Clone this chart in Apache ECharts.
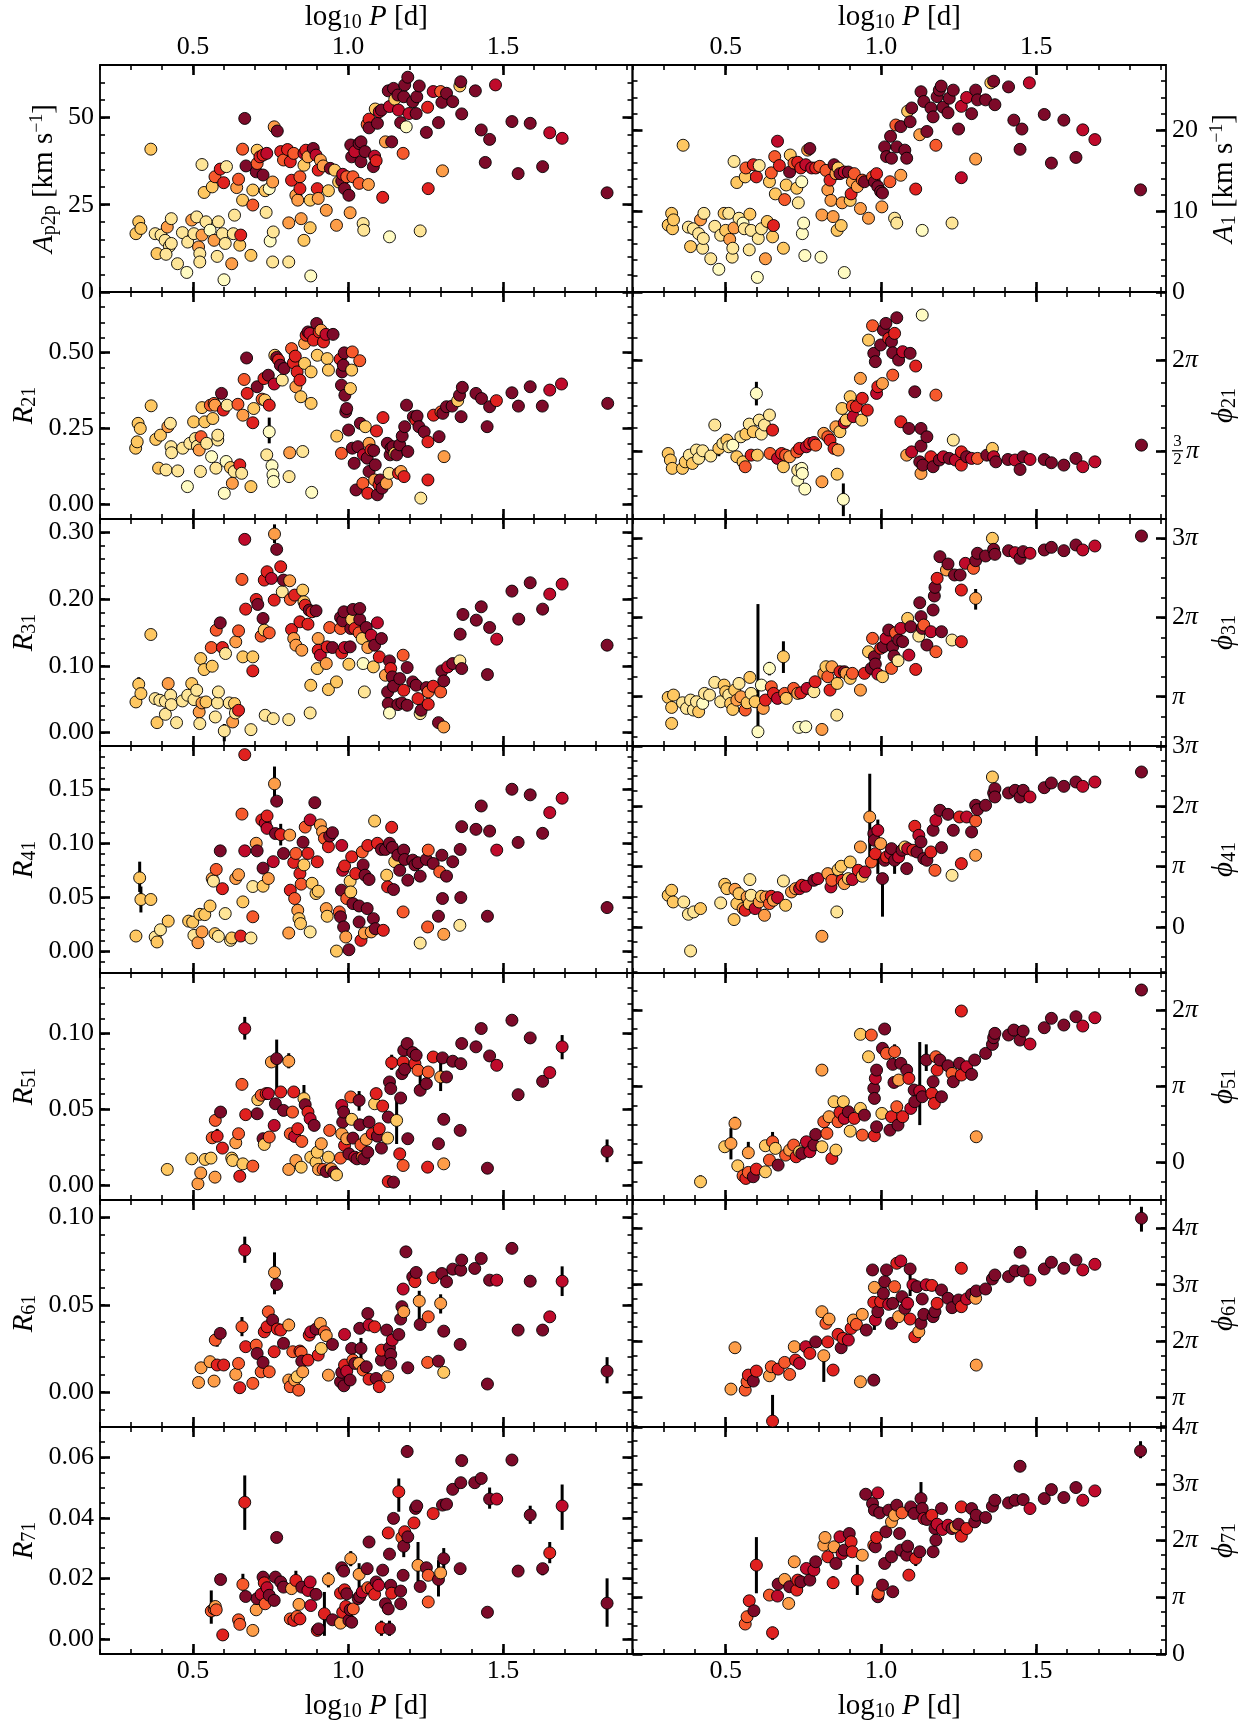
<!DOCTYPE html>
<html><head><meta charset="utf-8">
<script src="https://cdn.jsdelivr.net/npm/echarts@6/dist/echarts.min.js"></script>
<style>html,body{margin:0;padding:0;background:#fff}#c{width:1254px;height:1726px}</style>
</head><body><div id="c"></div>
<script>
// ---------------- DATA: [log10 P, value, colour class 0..7] ----------------
// phase panels (phi_k1) are stored in units of pi
const xTicks = [0.5, 1.0, 1.5];
const ap2pTicks = [0, 25, 50];
const a1Ticks = [0, 10, 20];
const r21Ticks = [0, 0.25, 0.5];
const r31Ticks = [0, 0.1, 0.2, 0.3];
const r41Ticks = [0, 0.05, 0.1, 0.15];
const r51Ticks = [0, 0.05, 0.1];
const r61Ticks = [0, 0.05, 0.1];
const r71Ticks = [0, 0.02, 0.04, 0.06];
const p21Ticks = [1.5, 2];
const p31Ticks = [1, 2, 3];
const p41Ticks = [0, 1, 2, 3];
const p51Ticks = [0, 1, 2];
const p61Ticks = [1, 2, 3, 4];
const p71Ticks = [0, 1, 2, 3, 4];

const ap2pPts = [[0.316,16.7,2],[0.325,20.1,2],[0.332,18.2,2],[0.364,40.9,2],[0.378,16.7,1],[0.384,11.0,2],[0.397,16.3,1],[0.410,14.8,1],[0.417,18.6,3],[0.424,13.1,1],[0.430,21.0,1],[0.430,13.9,1],[0.413,10.8,1],[0.450,8.1,1],[0.466,17.0,1],[0.480,5.6,0],[0.483,14.3,1],[0.496,20.6,3],[0.503,16.7,1],[0.512,21.5,1],[0.518,12.9,3],[0.522,11.0,1],[0.522,8.6,1],[0.529,16.3,3],[0.529,36.5,1],[0.536,28.5,2],[0.542,20.1,1],[0.555,17.7,0],[0.562,30.1,2],[0.568,14.8,3],[0.571,33.0,4],[0.578,10.2,1],[0.582,20.1,1],[0.588,35.2,5],[0.595,16.7,1],[0.599,31.3,5],[0.604,13.9,1],[0.600,3.5,0],[0.608,35.9,1],[0.625,8.1,3],[0.630,16.7,1],[0.634,22.0,1],[0.641,29.9,3],[0.647,32.3,4],[0.651,13.4,2],[0.654,16.3,5],[0.660,26.3,2],[0.660,40.9,4],[0.667,49.7,7],[0.671,36.1,7],[0.687,10.5,2],[0.693,24.9,4],[0.693,29.2,2],[0.704,34.4,7],[0.707,40.6,2],[0.707,36.8,4],[0.716,38.7,5],[0.726,39.2,5],[0.726,33.5,7],[0.733,29.0,2],[0.736,22.8,1],[0.738,39.7,6],[0.746,29.6,0],[0.749,14.6,0],[0.757,8.6,1],[0.759,17.2,1],[0.762,47.3,3],[0.772,46.1,7],[0.757,31.5,3],[0.783,40.2,5],[0.792,37.8,4],[0.805,40.8,5],[0.809,8.6,1],[0.809,19.8,3],[0.814,37.3,5],[0.818,32.0,5],[0.825,39.7,4],[0.832,27.7,3],[0.838,26.3,3],[0.845,33.0,4],[0.845,29.6,5],[0.849,21.0,3],[0.858,14.8,2],[0.858,36.3,2],[0.858,39.7,6],[0.864,40.6,5],[0.871,38.7,3],[0.878,26.3,2],[0.878,18.4,2],[0.880,4.6,0],[0.888,41.1,7],[0.897,39.2,6],[0.901,29.6,5],[0.904,34.9,5],[0.904,26.8,3],[0.911,37.8,3],[0.920,36.1,3],[0.930,23.4,3],[0.937,29.0,2],[0.943,35.4,7],[0.957,34.9,2],[0.963,19.1,3],[0.970,31.5,2],[0.980,31.8,7],[0.983,33.7,6],[0.989,29.6,7],[0.996,33.0,4],[1.003,27.7,7],[1.007,22.7,3],[1.009,42.1,7],[1.012,38.7,7],[1.016,33.0,4],[1.022,40.2,6],[1.036,42.5,7],[1.036,31.1,4],[1.042,37.3,7],[1.042,43.0,7],[1.049,19.6,1],[1.051,17.7,1],[1.055,40.2,7],[1.062,48.0,4],[1.066,30.8,3],[1.068,49.5,5],[1.068,47.0,7],[1.082,35.9,7],[1.086,38.9,6],[1.091,37.6,5],[1.095,48.3,7],[1.088,52.4,2],[1.101,51.6,6],[1.108,52.1,7],[1.112,27.1,5],[1.121,43.0,3],[1.130,57.6,7],[1.134,53.1,6],[1.134,15.8,0],[1.141,43.0,7],[1.147,58.3,7],[1.151,55.2,2],[1.161,56.4,7],[1.163,52.1,6],[1.170,48.5,7],[1.178,39.7,4],[1.180,55.9,7],[1.183,59.3,7],[1.188,47.3,0],[1.193,61.5,7],[1.197,51.1,6],[1.209,54.5,7],[1.220,51.1,7],[1.222,55.9,7],[1.230,59.0,7],[1.233,17.5,1],[1.253,45.7,7],[1.257,52.9,5],[1.259,29.6,5],[1.275,57.4,6],[1.292,48.5,7],[1.299,57.4,4],[1.303,54.3,7],[1.305,34.7,3],[1.318,56.9,7],[1.338,54.5,7],[1.361,59.0,2],[1.364,60.2,7],[1.367,51.0,7],[1.411,57.6,7],[1.430,46.4,7],[1.443,37.1,7],[1.457,43.7,7],[1.476,59.3,6],[1.529,48.8,7],[1.549,33.9,7],[1.588,48.3,7],[1.628,35.9,7],[1.651,45.6,6],[1.691,44.0,6],[1.836,28.4,7]];

const a1Pts = [[0.315,8.25,2],[0.326,9.7,2],[0.329,7.8,2],[0.332,8.9,2],[0.363,18.1,2],[0.380,8.0,1],[0.387,5.6,2],[0.396,7.8,1],[0.413,7.2,1],[0.419,8.9,3],[0.426,5.4,1],[0.428,6.6,1],[0.430,9.7,1],[0.452,4.1,1],[0.465,8.1,1],[0.478,2.8,0],[0.484,7.0,1],[0.495,9.7,2],[0.500,7.6,2],[0.510,9.7,1],[0.513,6.5,3],[0.521,4.3,1],[0.523,5.4,1],[0.527,7.9,3],[0.527,16.1,1],[0.536,13.5,2],[0.543,9.1,1],[0.556,8.5,0],[0.560,7.8,1],[0.563,14.2,2],[0.565,15.3,4],[0.576,5.2,1],[0.578,9.6,2],[0.582,7.6,1],[0.589,15.7,5],[0.599,14.2,5],[0.602,1.8,0],[0.605,6.6,1],[0.608,15.6,1],[0.615,7.8,1],[0.628,4.1,3],[0.634,8.7,2],[0.641,13.6,2],[0.647,14.7,4],[0.651,6.8,2],[0.654,8.2,5],[0.658,16.7,4],[0.660,12.1,2],[0.667,18.6,6],[0.673,15.6,5],[0.686,5.4,2],[0.690,11.4,4],[0.695,13.2,2],[0.706,14.8,7],[0.708,16.9,2],[0.720,15.9,4],[0.729,12.8,2],[0.732,16.0,5],[0.734,11.0,1],[0.742,15.3,5],[0.745,13.6,0],[0.747,7.2,0],[0.751,8.5,0],[0.755,4.5,0],[0.758,15.7,6],[0.764,17.5,3],[0.771,17.7,7],[0.777,15.3,6],[0.790,15.3,5],[0.803,15.5,4],[0.807,4.3,0],[0.810,9.5,3],[0.823,15.0,4],[0.829,12.6,3],[0.836,13.8,5],[0.839,11.3,3],[0.846,9.3,3],[0.849,15.7,7],[0.855,14.6,3],[0.859,7.6,2],[0.862,15.3,2],[0.868,14.6,7],[0.872,8.2,2],[0.875,11.0,3],[0.882,2.4,0],[0.882,14.8,6],[0.895,14.8,7],[0.901,11.3,2],[0.904,12.1,5],[0.908,13.6,3],[0.914,14.6,4],[0.924,13.0,3],[0.934,10.3,3],[0.940,13.8,4],[0.947,13.6,7],[0.960,9.1,3],[0.973,14.2,4],[0.979,13.6,7],[0.986,14.6,5],[0.990,13.0,7],[0.999,12.4,7],[1.003,10.5,3],[1.005,12.2,7],[1.012,17.9,7],[1.018,16.7,7],[1.029,13.6,4],[1.031,19.2,7],[1.034,16.5,7],[1.044,9.1,1],[1.048,20.6,4],[1.051,8.5,1],[1.051,17.9,7],[1.064,14.4,3],[1.064,20.4,7],[1.077,17.5,7],[1.083,16.5,7],[1.086,22.3,2],[1.094,21.0,7],[1.099,22.7,7],[1.112,12.7,5],[1.125,19.4,3],[1.133,7.6,0],[1.129,24.7,7],[1.138,23.5,7],[1.148,19.8,7],[1.161,22.7,7],[1.168,21.6,7],[1.177,18.1,4],[1.181,24.1,7],[1.188,24.9,7],[1.194,25.4,7],[1.200,22.8,7],[1.216,22.1,7],[1.220,23.9,7],[1.229,8.5,1],[1.233,24.9,7],[1.250,20.1,7],[1.259,22.9,6],[1.259,14.1,6],[1.276,24.0,6],[1.292,22.0,7],[1.305,16.4,3],[1.305,24.9,7],[1.311,23.7,7],[1.337,23.7,7],[1.354,25.8,2],[1.363,26.0,7],[1.367,23.1,7],[1.411,25.3,7],[1.428,21.2,7],[1.448,17.6,7],[1.454,20.1,7],[1.478,25.8,6],[1.526,21.9,7],[1.549,15.9,7],[1.589,21.2,7],[1.628,16.6,7],[1.650,20.0,6],[1.689,18.8,6],[1.836,12.6,7]];

const r21Pts = [[0.315,0.184,2],[0.320,0.205,2],[0.323,0.266,2],[0.330,0.249,2],[0.365,0.324,2],[0.380,0.213,2],[0.389,0.118,2],[0.395,0.227,2],[0.413,0.112,1],[0.419,0.255,3],[0.427,0.266,1],[0.429,0.189,1],[0.431,0.169,1],[0.451,0.109,1],[0.467,0.184,1],[0.482,0.057,0],[0.490,0.200,1],[0.502,0.271,2],[0.508,0.216,1],[0.514,0.191,1],[0.520,0.178,3],[0.524,0.107,1],[0.526,0.222,4],[0.529,0.318,2],[0.538,0.271,2],[0.544,0.200,1],[0.556,0.326,4],[0.560,0.156,0],[0.564,0.282,2],[0.568,0.332,4],[0.571,0.326,3],[0.574,0.118,1],[0.580,0.211,1],[0.580,0.227,1],[0.592,0.365,7],[0.598,0.310,5],[0.601,0.035,0],[0.607,0.140,0],[0.610,0.326,1],[0.621,0.120,2],[0.627,0.068,3],[0.633,0.107,1],[0.645,0.329,4],[0.651,0.129,5],[0.657,0.101,1],[0.661,0.293,3],[0.665,0.411,4],[0.673,0.482,7],[0.675,0.365,5],[0.687,0.057,2],[0.693,0.268,5],[0.696,0.315,2],[0.707,0.387,7],[0.723,0.346,4],[0.729,0.414,5],[0.732,0.343,2],[0.738,0.162,1],[0.743,0.425,7],[0.746,0.238,0],[0.746,0.326,5],[0.755,0.126,0],[0.758,0.096,0],[0.760,0.074,0],[0.762,0.396,6],[0.764,0.491,2],[0.770,0.484,7],[0.776,0.475,5],[0.782,0.458,7],[0.788,0.409,1],[0.794,0.447,7],[0.810,0.090,1],[0.812,0.169,3],[0.818,0.513,4],[0.824,0.466,5],[0.830,0.488,5],[0.832,0.387,3],[0.836,0.436,5],[0.845,0.409,5],[0.848,0.354,2],[0.854,0.173,1],[0.860,0.530,3],[0.860,0.464,2],[0.865,0.557,5],[0.871,0.568,7],[0.877,0.563,6],[0.881,0.332,2],[0.881,0.436,2],[0.883,0.038,0],[0.889,0.541,5],[0.899,0.596,7],[0.901,0.491,2],[0.907,0.568,5],[0.913,0.574,3],[0.921,0.535,5],[0.929,0.560,6],[0.933,0.480,2],[0.937,0.442,2],[0.952,0.560,7],[0.964,0.224,2],[0.975,0.478,5],[0.979,0.167,4],[0.979,0.392,7],[0.981,0.436,7],[0.985,0.458,7],[0.988,0.499,7],[0.990,0.359,7],[0.993,0.304,7],[0.996,0.315,7],[1.002,0.244,7],[1.008,0.381,2],[1.012,0.442,2],[1.014,0.502,4],[1.014,0.184,7],[1.020,0.134,7],[1.026,0.046,7],[1.032,0.189,7],[1.038,0.473,4],[1.040,0.266,7],[1.048,0.068,4],[1.050,0.162,6],[1.056,0.255,2],[1.062,0.151,7],[1.064,0.035,5],[1.068,0.200,3],[1.068,0.107,7],[1.074,0.178,5],[1.083,0.176,7],[1.086,0.079,3],[1.088,0.129,7],[1.092,0.241,5],[1.095,0.030,7],[1.100,0.063,5],[1.104,0.079,7],[1.110,0.052,7],[1.113,0.285,5],[1.124,0.068,3],[1.127,0.200,7],[1.133,0.101,1],[1.136,0.162,7],[1.139,0.184,7],[1.145,0.189,7],[1.151,0.167,2],[1.157,0.162,7],[1.163,0.101,5],[1.167,0.195,7],[1.171,0.107,3],[1.175,0.224,7],[1.181,0.090,5],[1.183,0.255,7],[1.189,0.326,7],[1.193,0.173,7],[1.211,0.288,7],[1.219,0.277,5],[1.223,0.290,7],[1.229,0.255,7],[1.235,0.019,1],[1.246,0.238,7],[1.258,0.205,5],[1.258,0.079,5],[1.276,0.293,5],[1.294,0.222,7],[1.300,0.304,4],[1.306,0.299,7],[1.310,0.156,3],[1.318,0.321,7],[1.336,0.323,7],[1.354,0.341,2],[1.360,0.359,7],[1.365,0.288,7],[1.369,0.385,7],[1.413,0.365,7],[1.431,0.348,7],[1.449,0.255,7],[1.457,0.321,7],[1.479,0.341,5],[1.529,0.367,7],[1.550,0.323,7],[1.588,0.387,7],[1.627,0.323,7],[1.651,0.376,6],[1.689,0.396,6],[1.838,0.332,7]];

const p21Pts = [[0.315,1.485,2],[0.322,1.449,2],[0.328,1.403,2],[0.361,1.403,2],[0.370,1.439,2],[0.383,1.476,1],[0.393,1.430,2],[0.406,1.504,1],[0.413,1.458,1],[0.426,1.500,1],[0.452,1.471,1],[0.465,1.642,1],[0.478,1.513,2],[0.491,1.540,1],[0.504,1.559,2],[0.510,1.522,1],[0.523,1.531,0],[0.536,1.467,2],[0.549,1.577,1],[0.556,1.439,2],[0.563,1.412,4],[0.565,1.592,2],[0.576,1.647,1],[0.582,1.476,5],[0.589,1.605,2],[0.599,1.816,0],[0.602,1.476,2],[0.608,1.669,1],[0.615,1.592,1],[0.625,1.642,1],[0.641,1.697,1],[0.643,1.485,4],[0.651,1.614,5],[0.667,1.458,6],[0.680,1.485,5],[0.686,1.412,2],[0.693,1.476,4],[0.706,1.467,3],[0.729,1.494,4],[0.732,1.338,0],[0.732,1.393,1],[0.738,1.513,5],[0.745,1.403,0],[0.747,1.375,0],[0.755,1.289,0],[0.760,1.522,6],[0.771,1.540,5],[0.784,1.546,6],[0.790,1.531,4],[0.810,1.329,3],[0.816,1.596,3],[0.829,1.577,4],[0.836,1.559,5],[0.849,1.513,5],[0.855,1.632,3],[0.859,1.371,2],[0.862,1.504,3],[0.868,1.605,2],[0.875,1.733,2],[0.879,1.232,0],[0.882,1.654,6],[0.888,1.669,2],[0.901,1.798,2],[0.908,1.746,4],[0.911,1.688,6],[0.921,1.743,5],[0.934,1.899,3],[0.938,1.669,2],[0.940,1.789,5],[0.956,1.724,5],[0.960,2.110,2],[0.973,2.189,4],[0.977,2.037,7],[0.982,1.991,7],[0.986,1.816,6],[0.990,1.853,5],[0.999,2.083,7],[1.005,1.871,3],[1.008,2.165,7],[1.016,2.202,7],[1.025,2.119,5],[1.034,2.101,7],[1.038,2.040,7],[1.038,1.917,4],[1.044,2.147,5],[1.051,2.233,7],[1.057,2.000,7],[1.064,1.660,5],[1.070,2.046,6],[1.083,1.476,3],[1.090,1.623,7],[1.094,2.037,7],[1.099,1.494,6],[1.109,1.825,7],[1.112,1.967,5],[1.125,1.439,7],[1.129,1.375,3],[1.129,1.623,7],[1.133,2.248,0],[1.129,1.526,7],[1.135,1.421,7],[1.148,1.577,7],[1.161,1.467,5],[1.168,1.412,7],[1.177,1.807,4],[1.188,1.449,7],[1.201,1.467,6],[1.220,1.458,7],[1.233,1.559,1],[1.240,1.449,6],[1.259,1.494,5],[1.259,1.421,5],[1.276,1.467,7],[1.292,1.458,6],[1.311,1.458,4],[1.341,1.476,7],[1.359,1.513,2],[1.363,1.467,6],[1.370,1.439,7],[1.409,1.452,7],[1.432,1.449,6],[1.448,1.397,7],[1.458,1.467,7],[1.480,1.452,6],[1.526,1.452,7],[1.549,1.434,7],[1.589,1.421,7],[1.628,1.458,7],[1.650,1.412,6],[1.689,1.439,6],[1.839,1.531,7]];

const r31Pts = [[0.316,0.046,2],[0.325,0.0725,2],[0.332,0.0585,2],[0.364,0.147,2],[0.378,0.051,1],[0.384,0.015,2],[0.393,0.0485,1],[0.411,0.047,1],[0.411,0.0275,1],[0.420,0.0735,3],[0.428,0.056,1],[0.430,0.042,1],[0.447,0.015,1],[0.466,0.0475,1],[0.483,0.056,1],[0.496,0.0735,2],[0.503,0.0495,1],[0.512,0.0635,1],[0.520,0.031,3],[0.522,0.0135,1],[0.529,0.0445,3],[0.525,0.111,2],[0.536,0.0945,2],[0.542,0.046,2],[0.559,0.1275,4],[0.562,0.0995,2],[0.572,0.0235,1],[0.575,0.1535,4],[0.579,0.0445,1],[0.582,0.061,1],[0.588,0.1645,7],[0.595,0.1275,5],[0.601,0.0025,1],[0.605,0.1185,1],[0.617,0.0445,1],[0.628,0.016,3],[0.634,0.0435,2],[0.637,0.0295,1],[0.647,0.0335,5],[0.638,0.136,3],[0.647,0.1525,4],[0.658,0.2295,4],[0.661,0.1135,2],[0.667,0.2895,6],[0.670,0.185,5],[0.687,0.0045,1],[0.693,0.1135,2],[0.693,0.0925,5],[0.704,0.1995,5],[0.709,0.192,7],[0.720,0.1445,4],[0.726,0.171,7],[0.730,0.1535,2],[0.733,0.026,1],[0.730,0.2285,5],[0.739,0.241,5],[0.746,0.1495,4],[0.753,0.231,6],[0.759,0.021,1],[0.762,0.1985,5],[0.763,0.2975,3],[0.770,0.2745,7],[0.783,0.2485,5],[0.788,0.211,1],[0.792,0.2285,7],[0.809,0.0195,1],[0.812,0.2275,3],[0.814,0.1995,4],[0.818,0.1545,5],[0.825,0.141,3],[0.828,0.206,5],[0.832,0.131,3],[0.845,0.166,5],[0.851,0.1235,3],[0.854,0.2135,2],[0.858,0.196,2],[0.862,0.191,5],[0.871,0.1625,5],[0.875,0.1835,7],[0.878,0.0295,1],[0.880,0.071,2],[0.884,0.181,5],[0.897,0.1825,7],[0.901,0.096,2],[0.904,0.141,3],[0.904,0.1235,5],[0.911,0.116,6],[0.930,0.1035,3],[0.933,0.1285,5],[0.937,0.0645,2],[0.941,0.1575,4],[0.950,0.1275,7],[0.963,0.076,2],[0.976,0.156,4],[0.976,0.1725,7],[0.980,0.1195,5],[0.983,0.1675,7],[0.987,0.181,7],[0.989,0.1275,6],[1.003,0.1025,2],[1.007,0.1285,7],[1.009,0.156,7],[1.012,0.1695,2],[1.016,0.1845,7],[1.022,0.156,5],[1.036,0.1495,4],[1.038,0.1695,7],[1.038,0.186,7],[1.046,0.141,2],[1.049,0.1035,0],[1.053,0.061,1],[1.059,0.1575,7],[1.064,0.1275,3],[1.075,0.146,6],[1.082,0.0985,2],[1.086,0.131,7],[1.095,0.1645,6],[1.101,0.1135,5],[1.108,0.141,7],[1.121,0.086,3],[1.128,0.061,7],[1.130,0.0435,7],[1.134,0.0295,0],[1.134,0.1075,7],[1.138,0.096,5],[1.143,0.0835,7],[1.147,0.0695,7],[1.161,0.042,7],[1.167,0.081,7],[1.174,0.0445,7],[1.178,0.116,4],[1.180,0.0635,5],[1.191,0.0975,7],[1.191,0.041,7],[1.209,0.076,7],[1.220,0.071,7],[1.226,0.051,5],[1.233,0.0285,1],[1.236,0.0335,7],[1.253,0.0675,7],[1.259,0.0425,5],[1.259,0.061,4],[1.275,0.0695,5],[1.292,0.015,7],[1.299,0.061,4],[1.303,0.0925,7],[1.309,0.0775,7],[1.309,0.0085,3],[1.322,0.0985,6],[1.338,0.1035,7],[1.361,0.1075,1],[1.362,0.1475,7],[1.367,0.096,7],[1.371,0.177,7],[1.414,0.1685,7],[1.430,0.1885,7],[1.450,0.087,7],[1.457,0.1575,7],[1.480,0.140,6],[1.529,0.212,7],[1.551,0.170,7],[1.588,0.2245,7],[1.628,0.185,7],[1.651,0.2075,6],[1.691,0.2225,6],[1.836,0.131,7]];

const p31Pts = [[0.315,0.992,2],[0.326,0.865,2],[0.326,0.663,2],[0.332,1.021,2],[0.361,0.924,1],[0.374,0.853,1],[0.387,0.958,1],[0.396,0.832,1],[0.406,0.937,1],[0.413,0.811,2],[0.426,0.916,0],[0.432,1.042,1],[0.448,1.021,1],[0.465,1.181,1],[0.484,0.937,1],[0.495,1.147,2],[0.500,1.063,2],[0.510,1.021,1],[0.516,0.916,2],[0.523,0.840,2],[0.529,1.084,2],[0.536,0.958,3],[0.543,1.168,1],[0.549,1.000,3],[0.563,0.832,4],[0.569,0.924,2],[0.578,1.244,2],[0.582,1.042,1],[0.595,0.937,2],[0.604,0.558,0],[0.615,1.147,0],[0.621,0.853,3],[0.628,0.958,5],[0.641,1.358,0],[0.647,1.126,4],[0.654,1.042,5],[0.667,0.979,6],[0.686,1.505,2],[0.690,1.042,4],[0.695,0.979,2],[0.719,1.105,4],[0.732,1.042,3],[0.736,0.613,0],[0.742,1.050,5],[0.758,0.621,0],[0.762,1.105,6],[0.784,1.063,1],[0.788,1.189,5],[0.810,0.587,3],[0.816,1.295,3],[0.823,1.379,2],[0.829,1.253,4],[0.836,1.084,5],[0.842,1.379,3],[0.858,0.768,1],[0.859,1.168,2],[0.868,1.316,5],[0.882,1.316,7],[0.888,1.295,3],[0.901,1.232,2],[0.908,1.295,4],[0.934,1.084,3],[0.947,1.295,5],[0.960,1.568,2],[0.969,1.358,7],[0.973,1.737,4],[0.979,1.505,7],[0.982,1.413,7],[0.990,1.286,6],[0.999,1.611,5],[1.005,1.253,2],[1.008,1.632,7],[1.016,1.737,6],[1.025,1.842,7],[1.034,1.358,4],[1.038,1.632,7],[1.042,1.514,7],[1.047,1.808,4],[1.055,1.455,1],[1.057,1.716,7],[1.064,1.863,6],[1.070,1.695,7],[1.086,1.989,2],[1.090,1.526,6],[1.096,1.884,7],[1.112,1.345,5],[1.122,1.766,1],[1.125,2.187,7],[1.129,2.011,7],[1.133,1.863,7],[1.138,1.905,4],[1.148,1.653,7],[1.161,1.821,6],[1.168,2.095,7],[1.172,2.272,7],[1.177,1.568,4],[1.174,2.381,7],[1.181,2.495,5],[1.190,2.768,7],[1.195,1.821,7],[1.211,2.600,3],[1.216,2.676,7],[1.229,1.716,1],[1.237,2.537,7],[1.255,2.537,7],[1.259,2.347,5],[1.259,1.695,5],[1.272,2.684,6],[1.298,2.621,4],[1.305,2.718,7],[1.305,2.242,3],[1.311,2.811,7],[1.337,2.777,7],[1.359,3.000,2],[1.363,2.861,7],[1.367,2.798,7],[1.411,2.844,7],[1.432,2.819,6],[1.448,2.747,7],[1.458,2.832,7],[1.480,2.811,6],[1.526,2.853,7],[1.549,2.886,7],[1.589,2.844,7],[1.628,2.916,7],[1.650,2.853,6],[1.689,2.903,6],[1.839,3.029,7]];

const r41Pts = [[0.316,0.0142,2],[0.328,0.068,2],[0.332,0.048,2],[0.364,0.048,2],[0.378,0.0133,1],[0.384,0.0087,2],[0.395,0.020,1],[0.420,0.028,2],[0.486,0.028,2],[0.499,0.027,2],[0.503,0.0148,1],[0.516,0.008,3],[0.522,0.0343,2],[0.529,0.018,3],[0.538,0.034,2],[0.555,0.042,2],[0.562,0.0674,3],[0.566,0.065,1],[0.571,0.0164,2],[0.575,0.0758,4],[0.582,0.0139,1],[0.588,0.093,7],[0.595,0.058,5],[0.604,0.035,1],[0.621,0.0102,1],[0.625,0.0124,2],[0.638,0.0674,3],[0.647,0.071,3],[0.654,0.0142,5],[0.658,0.127,4],[0.661,0.0458,2],[0.667,0.093,6],[0.667,0.182,5],[0.687,0.0124,1],[0.693,0.032,4],[0.693,0.060,1],[0.704,0.100,3],[0.707,0.093,7],[0.726,0.077,7],[0.726,0.0603,2],[0.722,0.1216,5],[0.733,0.1185,6],[0.739,0.1253,5],[0.739,0.1138,6],[0.743,0.0674,3],[0.759,0.083,6],[0.763,0.155,3],[0.766,0.109,7],[0.770,0.139,7],[0.783,0.108,5],[0.792,0.0906,7],[0.809,0.017,3],[0.812,0.1076,3],[0.814,0.0566,5],[0.825,0.0823,5],[0.828,0.0489,4],[0.832,0.0906,4],[0.838,0.038,3],[0.842,0.0303,2],[0.845,0.072,5],[0.847,0.0257,2],[0.849,0.0622,4],[0.855,0.101,7],[0.858,0.080,2],[0.862,0.115,4],[0.871,0.0906,5],[0.878,0.018,1],[0.878,0.1216,6],[0.884,0.063,2],[0.893,0.1376,7],[0.897,0.0535,2],[0.901,0.0829,5],[0.904,0.0557,2],[0.911,0.117,3],[0.918,0.1107,3],[0.924,0.1045,4],[0.930,0.0396,3],[0.933,0.0325,2],[0.937,0.0968,5],[0.941,0.1067,7],[0.950,0.1098,7],[0.963,0.0003,2],[0.972,0.0365,4],[0.976,0.032,7],[0.979,0.0566,7],[0.980,0.098,6],[0.983,0.075,6],[0.986,0.0226,7],[0.989,0.079,5],[0.993,0.0133,3],[0.996,0.0489,4],[1.003,0.0015,7],[1.007,0.065,2],[1.009,0.055,2],[1.012,0.0875,5],[1.016,0.0442,7],[1.025,0.072,5],[1.036,0.042,7],[1.036,0.0272,7],[1.042,0.0102,5],[1.046,0.092,4],[1.049,0.080,7],[1.053,0.017,3],[1.055,0.0705,7],[1.062,0.0396,7],[1.064,0.098,5],[1.068,0.0665,7],[1.075,0.018,3],[1.082,0.0303,7],[1.086,0.1206,2],[1.088,0.021,7],[1.095,0.100,5],[1.108,0.0943,7],[1.114,0.0195,5],[1.121,0.0943,7],[1.125,0.0705,2],[1.128,0.0597,5],[1.134,0.100,7],[1.141,0.1148,5],[1.143,0.0962,7],[1.147,0.0572,7],[1.151,0.083,2],[1.161,0.089,7],[1.167,0.075,7],[1.178,0.0365,4],[1.180,0.0937,7],[1.183,0.085,7],[1.193,0.0659,7],[1.209,0.0844,7],[1.216,0.080,7],[1.226,0.082,7],[1.233,0.0077,1],[1.233,0.0696,7],[1.253,0.085,7],[1.257,0.0226,4],[1.259,0.0937,4],[1.275,0.0813,7],[1.292,0.0325,7],[1.296,0.0736,4],[1.303,0.089,7],[1.305,0.0489,7],[1.309,0.0158,3],[1.318,0.0696,7],[1.338,0.0829,7],[1.361,0.0241,1],[1.362,0.0943,7],[1.364,0.0498,7],[1.367,0.1154,7],[1.413,0.1129,7],[1.430,0.1345,7],[1.450,0.0325,7],[1.457,0.1113,7],[1.480,0.0937,6],[1.529,0.150,7],[1.549,0.1008,7],[1.588,0.1448,7],[1.628,0.1092,7],[1.651,0.1284,6],[1.691,0.1417,6],[1.836,0.0405,7]];

const p41Pts = [[0.315,0.525,2],[0.326,0.608,2],[0.331,0.414,2],[0.365,0.414,1],[0.380,0.210,1],[0.387,-0.398,1],[0.397,0.249,1],[0.419,0.304,2],[0.484,0.398,1],[0.497,0.707,2],[0.504,0.635,2],[0.527,0.122,2],[0.530,0.624,3],[0.536,0.387,2],[0.543,0.552,2],[0.556,0.304,3],[0.563,0.276,5],[0.569,0.497,3],[0.576,0.387,2],[0.578,0.785,1],[0.582,0.525,1],[0.595,0.304,6],[0.608,0.414,3],[0.615,0.508,2],[0.625,0.193,3],[0.630,0.497,3],[0.641,0.387,4],[0.647,0.508,5],[0.654,0.442,3],[0.667,0.486,6],[0.686,0.762,1],[0.693,0.359,2],[0.712,0.580,3],[0.725,0.635,3],[0.738,0.635,6],[0.745,0.691,5],[0.758,0.674,6],[0.784,0.773,7],[0.797,0.801,6],[0.810,-0.155,3],[0.829,0.884,3],[0.839,0.663,6],[0.842,0.773,4],[0.858,0.249,1],[0.862,0.950,2],[0.872,1.006,2],[0.875,0.773,5],[0.882,0.718,3],[0.895,0.801,2],[0.901,1.077,2],[0.908,0.785,6],[0.927,0.939,5],[0.934,1.326,3],[0.940,0.840,2],[0.949,0.912,6],[0.964,1.823,3],[0.969,1.077,4],[0.977,1.547,7],[0.979,1.436,7],[0.982,1.215,5],[0.990,1.602,6],[0.999,1.381,3],[1.005,0.801,7],[1.012,1.105,7],[1.018,1.160,5],[1.031,1.215,6],[1.034,1.298,7],[1.044,1.105,7],[1.057,1.160,6],[1.068,1.271,7],[1.077,1.326,2],[1.083,0.967,7],[1.086,1.298,6],[1.103,1.271,5],[1.109,1.669,5],[1.116,1.243,7],[1.122,1.519,6],[1.129,1.409,7],[1.138,1.133,7],[1.148,1.105,7],[1.161,1.243,5],[1.168,1.602,7],[1.174,0.939,4],[1.177,1.768,6],[1.190,1.934,7],[1.195,1.315,7],[1.216,1.867,7],[1.229,0.856,1],[1.233,1.602,7],[1.253,1.823,5],[1.259,1.050,5],[1.276,1.823,6],[1.292,1.575,7],[1.305,1.757,4],[1.305,1.188,3],[1.305,2.017,7],[1.311,1.945,7],[1.337,2.017,7],[1.359,2.486,2],[1.363,2.221,7],[1.367,2.293,7],[1.367,2.155,7],[1.411,2.221,7],[1.432,2.265,7],[1.448,2.155,7],[1.458,2.265,7],[1.480,2.155,6],[1.526,2.309,7],[1.549,2.387,7],[1.589,2.331,7],[1.628,2.403,7],[1.650,2.331,6],[1.689,2.403,6],[1.839,2.569,7]];

const r51Pts = [[0.417,0.0102,2],[0.496,0.0172,2],[0.516,0.0007,3],[0.525,0.0079,3],[0.539,0.0168,2],[0.558,0.0177,2],[0.562,0.0311,4],[0.571,0.0051,3],[0.572,0.0426,4],[0.578,0.0322,5],[0.589,0.0481,7],[0.595,0.0243,5],[0.625,0.0177,2],[0.628,0.0161,2],[0.638,0.0278,3],[0.647,0.0338,4],[0.651,0.0057,5],[0.658,0.0664,4],[0.661,0.0139,2],[0.667,0.1033,6],[0.670,0.0464,5],[0.693,0.0124,4],[0.707,0.0470,7],[0.709,0.0563,2],[0.720,0.0592,4],[0.726,0.0305,7],[0.730,0.0267,2],[0.736,0.0603,5],[0.743,0.0603,6],[0.746,0.0316,4],[0.753,0.0812,3],[0.762,0.0393,6],[0.766,0.0536,7],[0.770,0.0834,7],[0.783,0.0614,5],[0.792,0.0492,7],[0.809,0.0817,3],[0.809,0.0102,3],[0.814,0.0338,4],[0.821,0.0481,4],[0.825,0.0614,5],[0.828,0.0320,6],[0.832,0.0161,3],[0.838,0.0371,5],[0.849,0.0117,2],[0.851,0.0287,4],[0.858,0.0570,2],[0.862,0.0530,7],[0.871,0.0481,5],[0.878,0.0437,6],[0.880,0.0183,2],[0.891,0.0393,7],[0.897,0.0150,2],[0.901,0.0216,2],[0.905,0.0102,3],[0.914,0.0272,3],[0.920,0.0102,4],[0.930,0.0088,7],[0.937,0.0183,2],[0.941,0.0360,4],[0.946,0.0106,3],[0.954,0.0084,7],[0.963,0.0066,2],[0.976,0.0177,4],[0.980,0.0525,6],[0.980,0.0338,3],[0.983,0.0415,7],[0.986,0.0481,7],[0.989,0.0260,5],[0.996,0.0305,3],[1.003,0.0205,7],[1.009,0.0581,4],[1.012,0.0433,2],[1.016,0.0309,7],[1.022,0.0183,6],[1.029,0.0172,7],[1.036,0.0558,7],[1.038,0.0397,7],[1.042,0.0265,4],[1.046,0.0183,4],[1.051,0.0172,7],[1.059,0.0300,3],[1.064,0.0216,7],[1.068,0.0415,7],[1.078,0.0338,5],[1.086,0.0536,2],[1.091,0.0603,5],[1.095,0.0322,7],[1.101,0.0371,5],[1.108,0.0243,7],[1.112,0.0521,5],[1.128,0.0309,2],[1.130,0.0448,7],[1.130,0.0022,5],[1.134,0.0680,7],[1.138,0.0636,7],[1.141,0.0808,5],[1.147,0.0018,7],[1.157,0.0426,2],[1.167,0.0205,5],[1.170,0.0574,7],[1.174,0.0735,7],[1.178,0.0812,5],[1.178,0.0128,4],[1.180,0.0890,7],[1.183,0.0764,7],[1.191,0.0934,7],[1.193,0.0305,7],[1.209,0.0874,7],[1.216,0.0801,5],[1.220,0.0857,7],[1.226,0.0757,4],[1.233,0.0625,7],[1.253,0.0669,7],[1.257,0.0117,5],[1.259,0.0746,4],[1.275,0.0845,5],[1.292,0.0272,7],[1.299,0.0713,3],[1.305,0.0839,7],[1.309,0.0433,7],[1.309,0.0139,3],[1.318,0.0713,7],[1.338,0.0817,7],[1.362,0.0360,7],[1.364,0.0801,7],[1.367,0.0934,7],[1.413,0.0912,7],[1.430,0.1033,7],[1.450,0.0110,7],[1.457,0.0852,7],[1.480,0.0790,6],[1.529,0.1088,7],[1.549,0.0596,7],[1.588,0.0971,7],[1.628,0.0684,7],[1.651,0.0742,6],[1.691,0.0912,6],[1.836,0.0221,7]];

const p51Pts = [[0.419,-0.254,2],[0.497,0.206,2],[0.517,0.249,3],[0.530,0.512,3],[0.539,-0.044,2],[0.556,-0.175,4],[0.565,-0.210,5],[0.573,-0.131,4],[0.573,0.127,3],[0.589,-0.188,7],[0.599,-0.088,5],[0.628,-0.123,2],[0.628,0.219,2],[0.641,0.031,4],[0.651,0.271,4],[0.660,0.184,2],[0.669,-0.035,7],[0.693,0.096,4],[0.706,0.162,3],[0.719,0.228,4],[0.727,0.074,5],[0.738,0.140,2],[0.745,0.118,7],[0.760,0.271,6],[0.771,0.140,6],[0.784,0.228,7],[0.790,0.368,7],[0.810,0.206,2],[0.810,1.212,3],[0.816,0.534,4],[0.826,0.381,4],[0.833,0.600,3],[0.842,0.053,5],[0.849,0.797,2],[0.855,0.162,2],[0.862,0.534,4],[0.868,0.656,5],[0.879,0.797,2],[0.882,0.578,6],[0.895,0.665,7],[0.901,0.411,2],[0.914,0.578,5],[0.934,0.709,2],[0.940,0.359,4],[0.947,0.621,7],[0.934,1.681,2],[0.960,1.387,2],[0.969,1.672,4],[0.977,0.972,7],[0.979,0.840,7],[0.979,0.350,5],[0.982,1.103,6],[0.986,1.212,7],[0.986,0.468,7],[1.003,0.643,2],[1.005,1.497,7],[1.012,1.751,7],[1.018,1.431,4],[1.029,0.424,7],[1.034,0.600,5],[1.038,1.287,7],[1.042,1.050,7],[1.044,1.453,4],[1.051,0.731,4],[1.055,0.490,7],[1.057,1.081,3],[1.064,1.300,7],[1.070,0.600,5],[1.083,1.212,7],[1.090,1.103,5],[1.096,0.709,6],[1.107,0.950,7],[1.109,0.797,7],[1.125,0.937,6],[1.133,0.862,7],[1.146,1.344,7],[1.164,0.906,5],[1.168,1.059,7],[1.172,0.775,5],[1.177,1.387,4],[1.181,1.212,5],[1.190,1.344,7],[1.195,0.862,7],[1.216,1.269,7],[1.229,1.168,4],[1.233,1.059,7],[1.253,1.300,7],[1.259,1.147,5],[1.259,1.987,5],[1.276,1.256,6],[1.292,1.155,7],[1.302,1.344,7],[1.307,0.337,3],[1.337,1.431,7],[1.359,1.549,7],[1.363,1.637,7],[1.367,1.694,7],[1.411,1.672,7],[1.428,1.737,7],[1.448,1.606,7],[1.458,1.724,7],[1.480,1.554,6],[1.526,1.768,7],[1.549,1.891,7],[1.589,1.803,7],[1.628,1.912,7],[1.650,1.790,6],[1.689,1.899,6],[1.839,2.263,7]];

const r61Pts = [[0.518,0.0055,3],[0.526,0.0139,3],[0.555,0.0174,3],[0.568,0.0063,3],[0.572,0.0298,4],[0.578,0.0155,5],[0.588,0.0336,7],[0.599,0.0155,5],[0.638,0.0101,3],[0.647,0.0164,4],[0.651,0.0025,5],[0.658,0.0374,4],[0.667,0.0813,6],[0.670,0.0260,5],[0.693,0.0050,4],[0.704,0.0269,4],[0.707,0.0221,7],[0.720,0.0116,4],[0.726,0.0170,7],[0.730,0.0345,5],[0.739,0.0374,5],[0.743,0.0460,4],[0.746,0.0116,4],[0.757,0.0412,7],[0.762,0.0231,5],[0.763,0.0685,3],[0.770,0.0616,7],[0.772,0.0361,5],[0.783,0.0355,5],[0.792,0.0279,7],[0.809,0.0384,3],[0.809,0.0069,3],[0.814,0.0031,4],[0.822,0.0231,4],[0.828,0.0069,3],[0.836,0.0088,2],[0.841,0.0011,4],[0.845,0.0235,5],[0.849,0.0227,4],[0.851,0.0177,7],[0.854,0.0116,3],[0.871,0.0183,5],[0.875,0.0326,5],[0.880,0.0345,6],[0.897,0.0361,7],[0.904,0.0212,5],[0.911,0.0393,3],[0.914,0.0250,2],[0.924,0.0345,4],[0.930,0.0323,3],[0.937,0.0097,3],[0.950,0.0273,7],[0.976,0.0059,7],[0.980,0.0113,7],[0.987,0.0036,7],[0.989,0.0330,6],[0.989,0.0155,5],[0.996,0.0120,6],[1.007,0.0069,7],[1.012,0.0250,7],[1.016,0.0183,4],[1.022,0.0164,7],[1.036,0.0164,3],[1.038,0.0365,7],[1.042,0.0250,7],[1.049,0.0126,4],[1.059,0.0145,7],[1.064,0.0450,7],[1.068,0.0074,5],[1.068,0.0384,6],[1.086,0.0374,5],[1.091,0.0078,7],[1.101,0.0031,5],[1.108,0.0183,7],[1.108,0.0240,5],[1.125,0.0355,7],[1.128,0.0088,3],[1.134,0.0254,7],[1.138,0.0216,7],[1.138,0.0164,7],[1.143,0.0298,6],[1.164,0.0330,7],[1.170,0.0418,7],[1.174,0.0489,7],[1.178,0.0590,6],[1.180,0.0460,3],[1.187,0.0803,7],[1.193,0.0139,7],[1.209,0.0660,7],[1.216,0.0632,5],[1.220,0.0685,7],[1.230,0.0521,3],[1.233,0.0387,7],[1.257,0.0170,4],[1.259,0.0431,4],[1.275,0.0655,5],[1.292,0.0177,7],[1.299,0.0508,3],[1.303,0.0679,7],[1.309,0.0349,7],[1.309,0.0113,2],[1.318,0.0632,7],[1.338,0.0704,7],[1.362,0.0273,7],[1.364,0.0698,7],[1.367,0.0756,7],[1.409,0.0708,7],[1.430,0.0765,7],[1.450,0.0046,7],[1.457,0.0641,7],[1.480,0.0641,6],[1.529,0.0823,7],[1.549,0.0355,7],[1.588,0.0635,7],[1.628,0.0355,7],[1.651,0.0431,6],[1.691,0.0635,6],[1.836,0.0120,7]];

const p61Pts = [[0.517,1.153,3],[0.530,1.885,3],[0.563,1.135,4],[0.569,1.283,4],[0.573,1.401,5],[0.589,1.295,7],[0.599,1.472,5],[0.641,1.389,3],[0.647,1.549,4],[0.651,0.586,5],[0.669,1.507,5],[0.690,1.625,4],[0.706,1.413,4],[0.721,1.903,3],[0.725,1.667,5],[0.738,1.608,6],[0.758,1.903,6],[0.771,1.785,5],[0.790,1.988,7],[0.810,2.523,3],[0.816,1.744,3],[0.823,2.317,4],[0.829,1.988,5],[0.833,2.393,3],[0.846,1.490,5],[0.862,2.122,5],[0.872,1.885,7],[0.878,2.051,5],[0.895,2.021,6],[0.904,2.228,5],[0.911,2.376,3],[0.921,2.299,4],[0.934,1.283,3],[0.940,2.476,3],[0.953,2.198,7],[0.973,3.262,7],[0.977,1.312,7],[0.977,2.689,5],[0.979,2.953,3],[0.982,2.376,6],[0.990,2.523,7],[0.999,2.701,5],[1.008,2.848,7],[1.012,3.055,7],[1.018,3.262,7],[1.025,2.653,6],[1.034,2.317,7],[1.038,2.671,7],[1.044,2.966,4],[1.051,3.380,5],[1.057,2.435,3],[1.064,3.421,6],[1.068,2.789,7],[1.077,2.582,7],[1.086,2.671,6],[1.094,3.279,7],[1.094,2.393,5],[1.103,3.000,6],[1.109,2.080,5],[1.116,2.966,7],[1.122,2.169,3],[1.129,2.317,7],[1.133,2.748,7],[1.138,2.476,7],[1.146,3.000,6],[1.164,2.988,5],[1.168,2.435,7],[1.174,2.523,7],[1.181,2.671,5],[1.195,2.907,7],[1.216,2.760,7],[1.229,2.594,7],[1.250,2.730,7],[1.259,2.612,5],[1.259,3.291,5],[1.276,2.748,6],[1.292,2.830,7],[1.305,2.760,3],[1.307,1.578,3],[1.307,2.890,7],[1.337,2.925,7],[1.359,3.102,7],[1.367,3.173,7],[1.411,3.144,7],[1.432,3.244,7],[1.448,3.575,7],[1.458,3.244,7],[1.480,3.084,6],[1.526,3.279,7],[1.549,3.398,7],[1.589,3.291,7],[1.628,3.439,7],[1.650,3.262,6],[1.689,3.362,6],[1.839,4.177,7]];

const r71Pts = [[0.559,0.0092,4],[0.568,0.0099,4],[0.572,0.0107,3],[0.575,0.0096,4],[0.589,0.0196,7],[0.596,0.0013,5],[0.647,0.0063,4],[0.651,0.0048,4],[0.661,0.0180,4],[0.667,0.0451,5],[0.670,0.0140,7],[0.693,0.0028,3],[0.704,0.0096,3],[0.707,0.0133,7],[0.720,0.0147,6],[0.726,0.0204,7],[0.730,0.0185,5],[0.733,0.0116,4],[0.739,0.0169,6],[0.746,0.0144,7],[0.762,0.0127,7],[0.766,0.0204,7],[0.770,0.0335,7],[0.783,0.0188,7],[0.792,0.0171,7],[0.814,0.0066,4],[0.818,0.0166,3],[0.825,0.0061,5],[0.832,0.0193,5],[0.836,0.0074,4],[0.842,0.0114,3],[0.845,0.0066,5],[0.851,0.0171,7],[0.871,0.0160,6],[0.878,0.0188,6],[0.880,0.0110,6],[0.897,0.0147,7],[0.901,0.0028,5],[0.905,0.0033,7],[0.924,0.0083,5],[0.937,0.0196,3],[0.950,0.0063,7],[0.976,0.0052,3],[0.976,0.0151,5],[0.980,0.0235,7],[0.983,0.0088,5],[0.986,0.0224,7],[0.989,0.0162,5],[0.993,0.0107,5],[0.996,0.0149,7],[1.003,0.0061,7],[1.007,0.0096,7],[1.009,0.0265,3],[1.012,0.0055,7],[1.017,0.0099,4],[1.033,0.0133,7],[1.036,0.0213,3],[1.038,0.0140,7],[1.046,0.0155,6],[1.062,0.0232,7],[1.064,0.0169,4],[1.068,0.0320,7],[1.075,0.0166,5],[1.086,0.0147,5],[1.091,0.0188,7],[1.099,0.0177,6],[1.108,0.0036,5],[1.112,0.0227,7],[1.121,0.0116,7],[1.130,0.0350,5],[1.130,0.0099,7],[1.134,0.0033,7],[1.134,0.0280,7],[1.138,0.0177,7],[1.141,0.0151,5],[1.147,0.0398,7],[1.164,0.0486,5],[1.170,0.0116,7],[1.170,0.0158,7],[1.174,0.0335,4],[1.178,0.0210,7],[1.180,0.0306,7],[1.183,0.0354,5],[1.191,0.0619,7],[1.193,0.0337,7],[1.213,0.0383,5],[1.218,0.0431,7],[1.222,0.0439,7],[1.226,0.0243,3],[1.233,0.0173,7],[1.253,0.0235,7],[1.259,0.0210,4],[1.259,0.0122,4],[1.275,0.0414,5],[1.292,0.0196,7],[1.299,0.0218,3],[1.305,0.0442,7],[1.309,0.0265,7],[1.318,0.0445,7],[1.338,0.0494,7],[1.362,0.0232,7],[1.364,0.0516,7],[1.367,0.0589,7],[1.409,0.0516,7],[1.430,0.0530,7],[1.450,0.0088,7],[1.457,0.0462,7],[1.480,0.0462,6],[1.529,0.0591,7],[1.549,0.0224,7],[1.588,0.0409,7],[1.628,0.0232,7],[1.651,0.0284,5],[1.691,0.0439,6],[1.836,0.0118,7]];

const p71Pts = [[0.563,0.528,4],[0.569,0.657,4],[0.576,0.938,5],[0.591,0.762,7],[0.599,1.566,5],[0.641,1.038,4],[0.651,0.375,5],[0.667,1.021,6],[0.669,1.232,7],[0.690,1.314,3],[0.703,0.891,3],[0.706,1.185,7],[0.721,1.625,3],[0.729,1.126,5],[0.732,1.302,5],[0.742,1.273,7],[0.760,1.507,6],[0.771,1.302,7],[0.784,1.478,6],[0.790,1.625,7],[0.816,1.918,3],[0.820,2.053,3],[0.829,1.713,5],[0.846,1.255,5],[0.849,1.889,3],[0.855,1.595,7],[0.868,2.065,6],[0.875,1.771,6],[0.882,1.830,7],[0.898,2.123,7],[0.904,1.977,5],[0.908,1.801,5],[0.924,1.302,5],[0.940,1.742,3],[0.951,2.815,7],[0.973,2.651,7],[0.977,1.918,4],[0.979,2.534,7],[0.982,1.889,7],[0.986,2.053,5],[0.990,2.839,6],[0.990,1.009,7],[0.992,1.067,4],[0.996,2.487,7],[1.005,1.214,7],[1.012,1.595,7],[1.016,2.153,7],[1.025,2.534,7],[1.034,1.713,7],[1.034,2.328,3],[1.038,1.097,7],[1.044,2.446,3],[1.051,2.622,7],[1.060,2.123,7],[1.064,1.830,7],[1.068,2.487,4],[1.083,1.742,7],[1.086,1.900,7],[1.090,1.390,5],[1.096,2.592,7],[1.107,2.475,7],[1.112,1.683,5],[1.125,1.801,7],[1.129,2.739,7],[1.133,2.563,7],[1.138,2.387,6],[1.148,2.370,7],[1.164,2.446,5],[1.168,1.801,7],[1.174,2.211,7],[1.177,2.006,7],[1.181,2.287,6],[1.195,2.563,7],[1.198,2.194,6],[1.216,2.270,6],[1.229,2.211,7],[1.240,2.240,3],[1.250,2.287,7],[1.259,2.592,5],[1.259,2.076,5],[1.276,2.211,5],[1.292,2.563,7],[1.302,2.328,7],[1.307,2.446,7],[1.337,2.405,7],[1.359,2.604,7],[1.367,2.710,7],[1.411,2.663,7],[1.432,2.710,7],[1.448,3.308,7],[1.458,2.721,7],[1.480,2.563,6],[1.526,2.739,7],[1.549,2.897,7],[1.589,2.757,7],[1.628,2.933,7],[1.650,2.710,6],[1.689,2.874,6],[1.836,3.578,7]];

// error bars: [log10 P, low, high]
const r21Err = [[0.746,0.20,0.285]];
const p21Err = [[0.478,1.47,1.56],[0.599,1.75,1.88],[0.879,1.14,1.32]];
const r31Err = [[0.325,0.064,0.083],[0.601,-0.013,0.013],[0.763,0.284,0.312]];
const p31Err = [[0.604,0.495,2.17],[0.641,1.27,1.44],[0.686,1.30,1.70],[1.305,2.10,2.36]];
const r41Err = [[0.328,0.055,0.083],[0.332,0.036,0.06],[0.522,0.030,0.040],[0.763,0.140,0.171],[0.783,0.098,0.118],[1.042,0.005,0.015],[1.086,0.116,0.125],[1.691,0.137,0.147],[1.836,0.036,0.046]];
const p41Err = [[0.625,0.10,0.30],[0.964,1.10,2.54],[0.990,0.88,1.78],[1.005,0.17,0.83],[1.044,0.88,1.20],[1.359,2.43,2.57]];
const r51Err = [[0.578,0.029,0.037],[0.667,0.096,0.111],[0.770,0.063,0.096],[0.809,0.077,0.087],[0.858,0.050,0.066],[1.036,0.049,0.062],[1.141,0.076,0.086],[1.157,0.027,0.058],[1.233,0.062,0.075],[1.299,0.062,0.082],[1.691,0.083,0.099],[1.836,0.015,0.030]];
const p51Err = [[0.419,-0.32,-0.17],[0.517,0.04,0.45],[0.530,0.45,0.60],[0.573,0.05,0.27],[0.651,0.20,0.40],[1.044,1.40,1.55],[1.125,0.49,1.58],[1.146,1.20,1.55],[1.839,2.19,2.34]];
const r61Err = [[0.578,0.026,0.034],[0.658,0.032,0.043],[0.667,0.074,0.089],[0.763,0.056,0.080],[0.809,0.035,0.042],[1.042,0.018,0.031],[1.230,0.040,0.058],[1.299,0.045,0.056],[1.691,0.055,0.072],[1.836,0.005,0.020]];
const p61Err = [[0.651,0.52,1.05],[0.816,1.28,1.80],[0.979,2.20,2.50],[1.064,3.35,3.50],[1.094,2.80,3.25],[1.839,3.94,4.38]];
const r71Err = [[0.559,0.005,0.016],[0.661,0.016,0.0215],[0.667,0.036,0.054],[0.832,0.016,0.0225],[0.924,0.001,0.0155],[0.937,0.017,0.022],[1.009,0.024,0.029],[1.036,0.013,0.025],[1.108,0.001,0.006],[1.134,0.001,0.006],[1.164,0.042,0.053],[1.180,0.027,0.035],[1.191,0.060,0.064],[1.226,0.019,0.032],[1.292,0.014,0.026],[1.309,0.023,0.030],[1.457,0.043,0.050],[1.588,0.038,0.044],[1.628,0.021,0.025],[1.651,0.025,0.032],[1.691,0.036,0.051],[1.836,0.004,0.020]];
const p71Err = [[0.599,1.07,2.06],[0.651,0.25,0.48],[0.846,1.15,1.37],[0.924,1.04,1.57],[1.112,1.55,1.75],[1.129,2.71,3.03],[1.836,3.45,3.75]];

// ---------------- STYLE ----------------
const COLORS = ['#fffbc2','#fee597','#fec761','#fd9d48','#f6592c','#e0211f','#bf0a2b','#7d0a29'];
const FONT = 'Liberation Serif';
const LBL = 26;
const TT = 29;
const RICH = {
  n:{fontFamily:FONT,fontSize:TT,lineHeight:32,color:'#000'},
  i:{fontFamily:FONT,fontSize:TT,lineHeight:32,fontStyle:'italic',color:'#000'},
  sub:{fontFamily:FONT,fontSize:20,lineHeight:16,verticalAlign:'bottom',color:'#000'},
  sup:{fontFamily:FONT,fontSize:18,lineHeight:14,verticalAlign:'top',color:'#000'}
};
const LRICH = {
  t:{fontFamily:FONT,fontSize:LBL,color:'#000'},
  p:{fontFamily:FONT,fontSize:LBL,fontStyle:'italic',color:'#000'},
  f:{fontFamily:FONT,fontSize:17,lineHeight:14,align:'center',color:'#000'},
  bar:{width:11,height:1.3,lineHeight:4,backgroundColor:'#000',align:'center'}
};
const X_MIN = 0.2, X_MAX = 1.918;
const LOGP = '{n|log}{sub|10}{n| }{i|P}{n| [d]}';

const t = s => '{t|' + s + '}';
const f0 = v => t(String(v));
const f1 = v => t(v.toFixed(1));
const f2 = v => t(v.toFixed(2));
function fpi(v){ v = Math.round(v*1000)/1000; if (v===0) return t('0'); if (v===1) return '{p|π}'; if (v===1.5) return '{f|3}\n{bar| }\n{f|2}'; return t(String(v)) + '{p|π}'; }

const PANELS = [
 {row:0,col:0,pts:ap2pPts,err:[],min:0,max:65,major:ap2pTicks,minor:5,fmt:f0,name:'{i|A}{sub|p2p}{n| [km s}{sup|−1}{n|]}',gap:40},
 {row:0,col:1,pts:a1Pts,err:[],min:0,max:28,major:a1Ticks,minor:2,fmt:f0,name:'{i|A}{sub|1}{n| [km s}{sup|−1}{n|]}',gap:42},
 {row:1,col:0,pts:r21Pts,err:r21Err,min:-0.05,max:0.70,major:r21Ticks,minor:0.05,fmt:f2,name:'{i|R}{sub|21}',gap:60},
 {row:1,col:1,pts:p21Pts,err:p21Err,min:1.124,max:2.375,major:p21Ticks,minor:0.125,fmt:fpi,name:'{i|ϕ}{sub|21}',gap:42,helper:[1.5]},
 {row:2,col:0,pts:r31Pts,err:r31Err,min:-0.02,max:0.32,major:r31Ticks,minor:0.02,fmt:f2,name:'{i|R}{sub|31}',gap:60},
 {row:2,col:1,pts:p31Pts,err:p31Err,min:0.378,max:3.244,major:p31Ticks,minor:0.25,fmt:fpi,name:'{i|ϕ}{sub|31}',gap:42},
 {row:3,col:0,pts:r41Pts,err:r41Err,min:-0.02,max:0.19,major:r41Ticks,minor:0.01,fmt:f2,name:'{i|R}{sub|41}',gap:60},
 {row:3,col:1,pts:p41Pts,err:p41Err,min:-0.764,max:3.0,major:p41Ticks,minor:0.25,fmt:fpi,name:'{i|ϕ}{sub|41}',gap:42},
 {row:4,col:0,pts:r51Pts,err:r51Err,min:-0.01,max:0.14,major:r51Ticks,minor:0.01,fmt:f2,name:'{i|R}{sub|51}',gap:60},
 {row:4,col:1,pts:p51Pts,err:p51Err,min:-0.493,max:2.486,major:p51Ticks,minor:0.25,fmt:fpi,name:'{i|ϕ}{sub|51}',gap:42},
 {row:5,col:0,pts:r61Pts,err:r61Err,min:-0.02,max:0.11,major:r61Ticks,minor:0.01,fmt:f2,name:'{i|R}{sub|61}',gap:60},
 {row:5,col:1,pts:p61Pts,err:p61Err,min:0.482,max:4.5,major:p61Ticks,minor:0.25,fmt:fpi,name:'{i|ϕ}{sub|61}',gap:42},
 {row:6,col:0,pts:r71Pts,err:r71Err,min:-0.005,max:0.07,major:r71Ticks,minor:0.005,fmt:f2,name:'{i|R}{sub|71}',gap:60},
 {row:6,col:1,pts:p71Pts,err:p71Err,min:0,max:4,major:p71Ticks,minor:0.25,fmt:fpi,name:'{i|ϕ}{sub|71}',gap:42}
];

function steps(min, max, step){
  const out = [];
  const k0 = Math.ceil(min/step - 1e-6), k1 = Math.floor(max/step + 1e-6);
  for (let k = k0; k <= k1; k++) out.push(+(k*step).toFixed(6));
  return out;
}

const grids = [], xAxes = [], yAxes = [], series = [];
const TOP0 = 65, H = 227;
const MAJ = {length:10, width:2.6}, MIN = {length:5, width:1.6};
const xMinorVals = steps(X_MIN, X_MAX, 0.1);

PANELS.forEach((p, gi) => {
  const left = p.col ? 632.5 : 100;
  const width = p.col ? 533.5 : 532.5;
  grids.push({left, top: TOP0 + p.row*H, width, height: H, show: true,
    borderColor: '#000', borderWidth: 1.8, backgroundColor: 'rgba(0,0,0,0)'});

  const xb = {gridIndex: gi, type: 'value', min: X_MIN, max: X_MAX,
    splitLine: {show: false}, axisLine: {show: false, onZero: false}};
  ['bottom', 'top'].forEach(pos => {
    const lab = (pos === 'bottom' && p.row === 6) || (pos === 'top' && p.row === 0);
    xAxes.push(Object.assign({}, xb, {position: pos,
      axisTick: {show: true, inside: true, length: MAJ.length, customValues: xTicks, lineStyle: {color: '#000', width: MAJ.width}},
      axisLabel: {show: lab, customValues: xTicks, formatter: f1, margin: pos === 'bottom' ? 4 : 5, color: '#000', fontFamily: FONT, fontSize: LBL, rich: LRICH},
      name: lab ? LOGP : '', nameLocation: 'middle', nameGap: pos === 'bottom' ? 36 : 32,
      nameTextStyle: {rich: RICH, fontFamily: FONT, fontSize: TT, color: '#000'}}));
    xAxes.push(Object.assign({}, xb, {position: pos,
      axisTick: {show: true, inside: true, length: MIN.length, customValues: xMinorVals, lineStyle: {color: '#000', width: MIN.width}},
      axisLabel: {show: false}}));
  });

  const yb = {gridIndex: gi, type: 'value', min: p.min, max: p.max,
    splitLine: {show: false}, axisLine: {show: false, onZero: false}};
  const side = p.col ? 'right' : 'left';
  const yMinorVals = steps(p.min, p.max, p.minor);
  ['left', 'right'].forEach(pos => {
    const lab = pos === side;
    yAxes.push(Object.assign({}, yb, {position: pos,
      axisTick: {show: true, inside: true, length: MAJ.length, customValues: p.major, lineStyle: {color: '#000', width: MAJ.width}},
      axisLabel: {show: lab, customValues: p.major, formatter: p.fmt, margin: 6, color: '#000', fontFamily: FONT, fontSize: LBL, rich: LRICH},
      name: lab ? p.name : '', nameLocation: 'middle', nameRotate: 90, nameGap: p.gap,
      nameTextStyle: {rich: RICH, fontFamily: FONT, fontSize: TT, color: '#000'}}));
    const helper = lab && p.helper;
    yAxes.push(Object.assign({}, yb, {position: pos,
      axisTick: {show: true, inside: true, length: MIN.length, customValues: yMinorVals, lineStyle: {color: '#000', width: MIN.width}},
      axisLabel: helper ? {show: true, customValues: p.helper, formatter: () => '{p|π}', margin: 20, color: '#000', fontFamily: FONT, fontSize: LBL, rich: LRICH} : {show: false}}));
  });

  const xi = gi*4, yi = gi*4;
  if (p.err.length) {
    series.push({type: 'custom', xAxisIndex: xi, yAxisIndex: yi, data: p.err, silent: true, z: 1, clip: true,
      encode: {x: 0, y: [1, 2]},
      renderItem: (params, api) => {
        const a = api.coord([api.value(0), api.value(1)]);
        const b = api.coord([api.value(0), api.value(2)]);
        return {type: 'line', shape: {x1: a[0], y1: a[1], x2: b[0], y2: b[1]}, style: {stroke: '#000', lineWidth: 3}};
      }});
  }
  series.push({type: 'scatter', xAxisIndex: xi, yAxisIndex: yi, data: p.pts, symbol: 'circle', symbolSize: 12,
    silent: true, z: 2, clip: true,
    itemStyle: {color: prm => COLORS[prm.value[2]], borderColor: '#000', borderWidth: 0.9, opacity: 1}});
});

const chart = echarts.init(document.getElementById('c'), null, {renderer: 'canvas'});
chart.setOption({
  animation: false,
  backgroundColor: '#fff',
  textStyle: {fontFamily: FONT},
  grid: grids, xAxis: xAxes, yAxis: yAxes, series
});
</script>
</body></html>
